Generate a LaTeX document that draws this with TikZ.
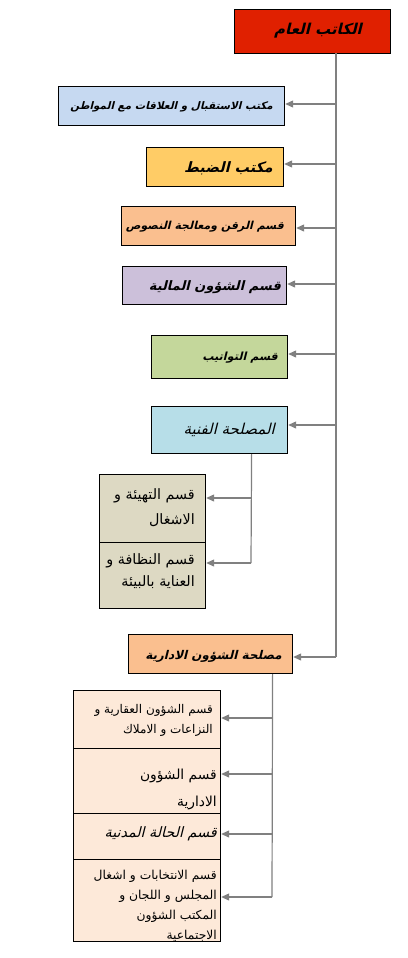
\documentclass[tikz,border=0pt]{standalone}
\usepackage{fontspec}
\usetikzlibrary{arrows.meta}
\TeXXeTstate=1
\newfontfamily\arb[Script=Arabic]{DejaVu Sans}
\newfontfamily\arbc[Script=Arabic,FakeSlant=0.25]{DejaVu Sans}
\definecolor{ctitle}{RGB}{224,32,0}
\definecolor{cbl}{RGB}{198,217,241}
\definecolor{cgold}{RGB}{255,204,102}
\definecolor{cpeach}{RGB}{250,191,143}
\definecolor{clav}{RGB}{204,192,218}
\definecolor{cgreen}{RGB}{196,215,155}
\definecolor{ccyan}{RGB}{183,222,232}
\definecolor{ctan}{RGB}{221,217,195}
\definecolor{cpink}{RGB}{253,233,217}
\definecolor{cline}{RGB}{128,128,128}
\begin{document}
\begin{tikzpicture}[x=1pt,y=-1pt]
\tikzset{
 bx/.style={draw=black, line width=1.2pt, anchor=north west, inner sep=0pt},
 tx/.style={inner sep=0pt, align=right, anchor=east},
 ln/.style={draw=cline, line width=1.2pt},
 ar/.style={ln, -{Triangle[length=8pt,width=7pt]}},
}
\useasboundingbox (0,0) rectangle (407,958);
\fill[white] (0,0) rectangle (407,958);
% boxes
\node[bx, fill=ctitle, minimum width=156pt, minimum height=44pt] (title) at (234,9) {};
\node[bx, fill=cbl, minimum width=226pt, minimum height=39pt] (b1) at (58,86) {};
\node[bx, fill=cgold, minimum width=137pt, minimum height=39pt] (b2) at (146,147) {};
\node[bx, fill=cpeach, minimum width=174pt, minimum height=39pt] (b3) at (121,206) {};
\node[bx, fill=clav, minimum width=164pt, minimum height=38pt] (b4) at (122,266) {};
\node[bx, fill=cgreen, minimum width=136pt, minimum height=43pt] (b5) at (151,335) {};
\node[bx, fill=ccyan, minimum width=136pt, minimum height=47pt] (b6) at (151,406) {};
\node[bx, fill=ctan, minimum width=106pt, minimum height=68pt] (b7) at (99,474) {};
\node[bx, fill=ctan, minimum width=106pt, minimum height=66pt] (b8) at (99,542) {};
\node[bx, fill=cpeach, minimum width=164pt, minimum height=39pt] (b9) at (128,634) {};
\node[bx, fill=cpink, minimum width=147pt, minimum height=58pt] (b10) at (73,690) {};
\node[bx, fill=cpink, minimum width=147pt, minimum height=65pt] (b11) at (73,748) {};
\node[bx, fill=cpink, minimum width=147pt, minimum height=46pt] (b12) at (73,813) {};
\node[bx, fill=cpink, minimum width=147pt, minimum height=82pt] (b13) at (73,859) {};
% texts
\node[tx, anchor=center, font=\arbc\bfseries\fontsize{15}{17}\selectfont] (t0) at (318,31) {\beginR الكاتب العام\endR};
\node[tx, font=\arbc\bfseries\fontsize{10.4}{12}\selectfont] (t1) at (273,107) {\beginR مكتب الاستقبال و العلاقات مع المواطن\endR};
\node[tx, font=\arbc\bfseries\fontsize{14.3}{16}\selectfont] (t2) at (273,168) {\beginR مكتب الضبط\endR};
\node[tx, font=\arbc\bfseries\fontsize{11}{13}\selectfont] (t3) at (284,227) {\beginR قسم الرقن ومعالجة النصوص\endR};
\node[tx, font=\arbc\bfseries\fontsize{13}{15}\selectfont] (t4) at (281,287) {\beginR قسم الشؤون المالية\endR};
\node[tx, font=\arbc\bfseries\fontsize{11.2}{13}\selectfont] (t5) at (278,358) {\beginR قسم التواتيب\endR};
\node[tx, font=\arbc\fontsize{15}{17}\selectfont] (t6) at (275,430) {\beginR المصلحة الفنية\endR};
\node[tx, font=\arb\fontsize{14.3}{25}\selectfont] (t7) at (195,508) {\beginR قسم التهيئة و\endR\\\beginR الاشغال\endR};
\node[tx, font=\arb\fontsize{14.3}{22}\selectfont] (t8) at (195,571) {\beginR قسم النظافة و\endR\\\beginR العناية بالبيئة\endR};
\node[tx, font=\arbc\bfseries\fontsize{12}{14}\selectfont] (t9) at (282,656) {\beginR مصلحة الشؤون الادارية\endR};
\node[tx, font=\arb\fontsize{12}{20}\selectfont] (t10) at (213,720) {\beginR قسم الشؤون العقارية و\endR\\\beginR النزاعات و الاملاك\endR};
\node[tx, font=\arb\fontsize{13.8}{27}\selectfont] (t11) at (217,789) {\beginR قسم الشؤون\endR\\\beginR الادارية\endR};
\node[tx, font=\arbc\fontsize{14.3}{16}\selectfont] (t12) at (217,834) {\beginR قسم الحالة المدنية\endR};
\node[tx, font=\arb\fontsize{12.3}{20}\selectfont] (t13) at (217,906) {\beginR قسم الانتخابات و اشغال\endR\\\beginR المجلس و اللجان و\endR\\\beginR المكتب الشؤون\endR\\\beginR الاجتماعية\endR};
% main connectors
\coordinate (tk) at (336,53);
\coordinate (tk1) at (336,104);
\coordinate (tk2) at (336,164);
\coordinate (tk3) at (336,228);
\coordinate (tk4) at (336,284);
\coordinate (tk5) at (336,354);
\coordinate (tk6) at (336,425);
\coordinate (tk9) at (336,657);
\draw[ln] (tk) -- (tk9);
\foreach \c/\b in {tk1/b1,tk2/b2,tk3/b3,tk4/b4,tk5/b5,tk6/b6,tk9/b9}{\draw[ar] (\c) -- (\c -| \b.east);}
% technical branch
\coordinate (s6) at ([xshift=32pt]b6.south);
\coordinate (a7) at (251,498);
\coordinate (a8) at (251,563);
\draw[ln] (s6) -- (a8);
\draw[ar] (a7) -- (a7 -| b7.east);
\draw[ar] (a8) -- (a8 -| b8.east);
% administrative branch
\coordinate (s9) at ([xshift=62pt]b9.south);
\coordinate (a10) at (272,718);
\coordinate (a11) at (272,774);
\coordinate (a12) at (272,834);
\coordinate (a13) at (272,897);
\draw[ln] (s9) -- (a13);
\foreach \a/\b in {a10/b10,a11/b11,a12/b12,a13/b13}{\draw[ar] (\a) -- (\a -| \b.east);}
\end{tikzpicture}
\end{document}
